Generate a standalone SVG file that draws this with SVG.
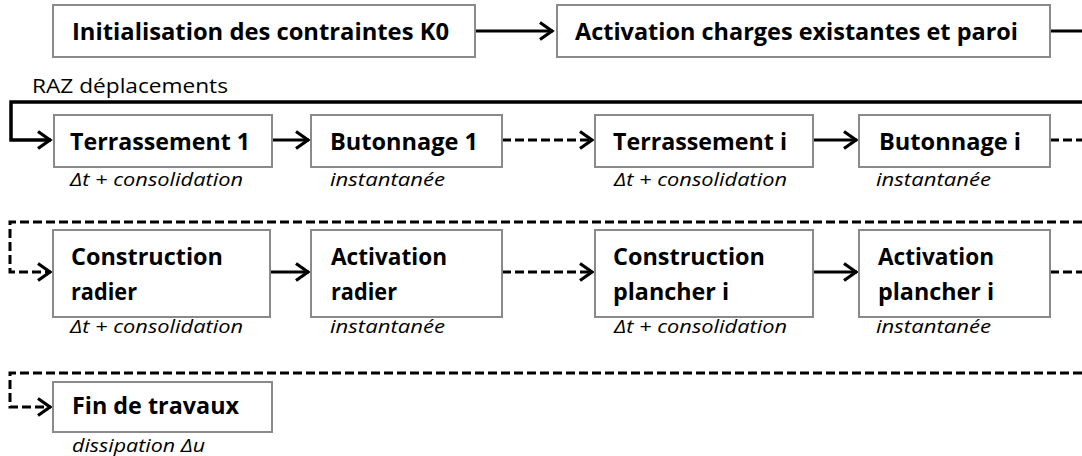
<svg xmlns="http://www.w3.org/2000/svg" width="1082" height="456" viewBox="0 0 1082 456">
<style>
.box{fill:#fff;stroke:#8a8a8a;stroke-width:2}
.t{font-family:"Open Sans","Noto Sans",sans-serif;font-weight:bold;font-size:23px;fill:#000}
.a{font-family:"Open Sans","Noto Sans",sans-serif;font-style:italic;font-size:18px;fill:#000}
.r{font-family:"Open Sans","Noto Sans",sans-serif;font-size:19.5px;fill:#000}
.c{fill:none;stroke:#000;stroke-width:3}
.d{stroke-dasharray:9 4}
</style>
<defs>
<marker id="arr" markerUnits="userSpaceOnUse" markerWidth="22" markerHeight="22" refX="15" refY="10" orient="auto">
<path d="M2,1.5 L14,10 L2,18.5" fill="none" stroke="#000" stroke-width="3.2" stroke-dasharray="none"/>
</marker>
</defs>
<rect width="1082" height="456" fill="#fff"/>
<g id="connectors">
<path class="c" d="M475,31 H553" marker-end="url(#arr)"/>
<path class="c" d="M1050,31 H1082"/>
<path class="c" d="M1082,102 H11 V140 H51" marker-end="url(#arr)" style="stroke-width:3.5"/>
<path class="c" d="M272,140 H309" marker-end="url(#arr)"/>
<path class="c d" d="M502,140 H593" marker-end="url(#arr)"/>
<path class="c" d="M813,140 H857" marker-end="url(#arr)"/>
<path class="c d" d="M1050,140 H1082"/>
<path class="c d" d="M1082,222 H10 V272 H51" marker-end="url(#arr)"/>
<path class="c" d="M270,272 H309" marker-end="url(#arr)"/>
<path class="c d" d="M502,272 H593" marker-end="url(#arr)"/>
<path class="c" d="M813,272 H857" marker-end="url(#arr)"/>
<path class="c d" d="M1050,272 H1082"/>
<path class="c d" d="M1082,373 H10 V407 H51" marker-end="url(#arr)"/>
</g>
<text class="r" x="32" y="93" textLength="196" lengthAdjust="spacingAndGlyphs">RAZ déplacements</text>
<g id="n1"><rect class="box" x="53" y="5" width="422" height="52"/><text class="t" x="72" y="40" textLength="377" lengthAdjust="spacingAndGlyphs">Initialisation des contraintes K0</text></g>
<g id="n2"><rect class="box" x="557" y="5" width="493" height="52"/><text class="t" x="575" y="40" textLength="443" lengthAdjust="spacingAndGlyphs">Activation charges existantes et paroi</text></g>
<g id="n3"><rect class="box" x="54" y="115" width="218" height="52"/><text class="t" x="70" y="150" textLength="180" lengthAdjust="spacingAndGlyphs">Terrassement 1</text><text class="a" x="70" y="186" textLength="173" lengthAdjust="spacingAndGlyphs">Δt + consolidation</text></g>
<g id="n4"><rect class="box" x="311" y="115" width="191" height="52"/><text class="t" x="330" y="150" textLength="148" lengthAdjust="spacingAndGlyphs">Butonnage 1</text><text class="a" x="330" y="186" textLength="115" lengthAdjust="spacingAndGlyphs">instantanée</text></g>
<g id="n5"><rect class="box" x="595" y="115" width="218" height="52"/><text class="t" x="613" y="150" textLength="174" lengthAdjust="spacingAndGlyphs">Terrassement i</text><text class="a" x="614" y="186" textLength="173" lengthAdjust="spacingAndGlyphs">Δt + consolidation</text></g>
<g id="n6"><rect class="box" x="859" y="115" width="191" height="52"/><text class="t" x="879" y="150" textLength="142" lengthAdjust="spacingAndGlyphs">Butonnage i</text><text class="a" x="876" y="186" textLength="115" lengthAdjust="spacingAndGlyphs">instantanée</text></g>
<g id="n7"><rect class="box" x="53" y="230" width="217" height="87"/><text class="t" x="71" y="265" textLength="152" lengthAdjust="spacingAndGlyphs">Construction</text><text class="t" x="71" y="300" textLength="66" lengthAdjust="spacingAndGlyphs">radier</text><text class="a" x="70" y="333" textLength="173" lengthAdjust="spacingAndGlyphs">Δt + consolidation</text></g>
<g id="n8"><rect class="box" x="311" y="230" width="191" height="87"/><text class="t" x="331" y="265" textLength="116" lengthAdjust="spacingAndGlyphs">Activation</text><text class="t" x="331" y="300" textLength="66" lengthAdjust="spacingAndGlyphs">radier</text><text class="a" x="330" y="333" textLength="115" lengthAdjust="spacingAndGlyphs">instantanée</text></g>
<g id="n9"><rect class="box" x="595" y="230" width="218" height="87"/><text class="t" x="613" y="265" textLength="152" lengthAdjust="spacingAndGlyphs">Construction</text><text class="t" x="613" y="300" textLength="116" lengthAdjust="spacingAndGlyphs">plancher i</text><text class="a" x="614" y="333" textLength="173" lengthAdjust="spacingAndGlyphs">Δt + consolidation</text></g>
<g id="n10"><rect class="box" x="859" y="230" width="191" height="87"/><text class="t" x="878" y="265" textLength="116" lengthAdjust="spacingAndGlyphs">Activation</text><text class="t" x="878" y="300" textLength="116" lengthAdjust="spacingAndGlyphs">plancher i</text><text class="a" x="876" y="333" textLength="115" lengthAdjust="spacingAndGlyphs">instantanée</text></g>
<g id="n11"><rect class="box" x="53" y="382" width="219" height="50"/><text class="t" x="72" y="414" textLength="167" lengthAdjust="spacingAndGlyphs">Fin de travaux</text><text class="a" x="72" y="452" textLength="133" lengthAdjust="spacingAndGlyphs">dissipation Δu</text></g>
</svg>
